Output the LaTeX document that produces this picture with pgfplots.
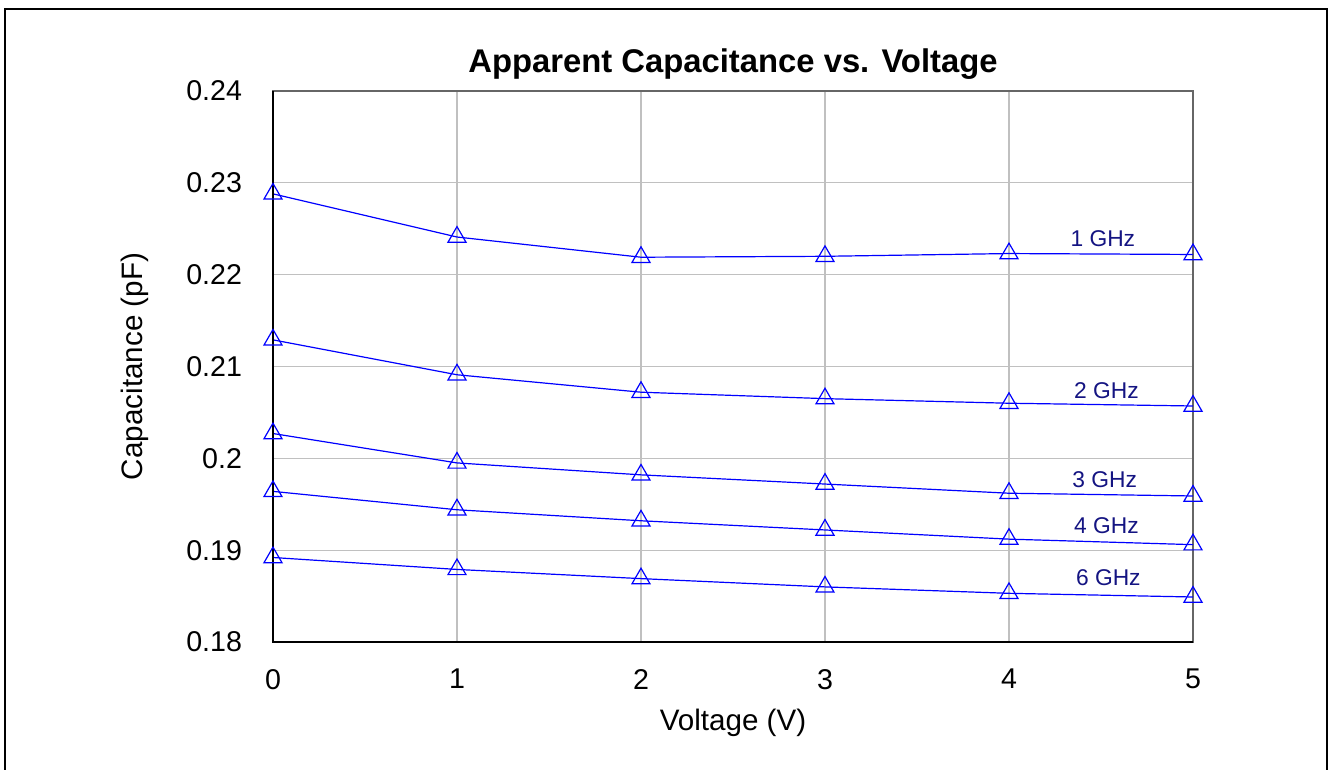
\documentclass[border=0pt]{standalone}
\usepackage{fontspec}
\setmainfont{Liberation Sans}
\usepackage{pgfplots}
\pgfplotsset{compat=1.18}
\definecolor{navylab}{RGB}{20,20,130}
\definecolor{gridgray}{RGB}{192,192,192}
\pgfplotsset{ser/.style={draw=blue, line width=0.6pt, mark=triangle, mark size=5.2pt, mark options={draw=blue, fill=none, solid, line width=0.6pt}}}
\begin{document}
\begin{tikzpicture}
\useasboundingbox (-136.5pt,-64pt) rectangle (528.5pt,321pt);
\fill[white] (-136.5pt,-64pt) rectangle (528.5pt,321pt);
\draw[black, line width=0.8pt] (-134pt,-80pt) -- (-134pt,316.5pt) -- (527pt,316.5pt) -- (527pt,-80pt);
\begin{axis}[
  at={(0,0)}, anchor=south west,
  scale only axis, width=460pt, height=275.5pt,
  xmin=0, xmax=5, ymin=0.18, ymax=0.24,
  xtick={0,1,2,3,4,5},
  ytick={0.18,0.19,0.2,0.21,0.22,0.23,0.24},
  /pgf/number format/assume math mode=true,
  yticklabel style={/pgf/number format/fixed, font=\fontsize{14.3}{17}\selectfont, xshift=-12pt},
  xticklabel style={font=\fontsize{14.3}{17}\selectfont, yshift=-10pt},
  major tick length=0pt,
  grid=major,
  major grid style={draw=gridgray, line width=0.6pt},
  axis line style={draw=black!60, line width=0.8pt},
  title={\textbf{Apparent Capacitance vs. Voltage}},
  title style={font=\fontsize{16.4}{19}\selectfont, yshift=-4pt},
  xlabel={Voltage (V)},
  ylabel={Capacitance (pF)},
  label style={font=\fontsize{14.8}{17}\selectfont},
  xlabel style={yshift=-3pt},
  ylabel style={yshift=12pt},
  clip=false,
]
\addplot[ser] coordinates {(0,0.2288) (1,0.2241) (2,0.2219) (3,0.2220) (4,0.2223) (5,0.2222)};
\addplot[ser] coordinates {(0,0.2129) (1,0.2091) (2,0.2072) (3,0.2065) (4,0.2060) (5,0.2057)};
\addplot[ser] coordinates {(0,0.2027) (1,0.1995) (2,0.1982) (3,0.1972) (4,0.1962) (5,0.1959)};
\addplot[ser] coordinates {(0,0.1964) (1,0.1944) (2,0.1932) (3,0.1922) (4,0.1912) (5,0.1906)};
\addplot[ser] coordinates {(0,0.1892) (1,0.1879) (2,0.1869) (3,0.1860) (4,0.1853) (5,0.1849)};
\draw[black, line width=0.9pt] (rel axis cs:0,1) -- (rel axis cs:0,0) -- (rel axis cs:1,0);
\begin{scope}[every node/.style={text=navylab, font=\fontsize{11.4}{13}\selectfont}]
\node at (axis cs:4.51,0.2239) {1 GHz};
\node at (axis cs:4.53,0.2074) {2 GHz};
\node at (axis cs:4.52,0.19764) {3 GHz};
\node at (axis cs:4.53,0.19263) {4 GHz};
\node at (axis cs:4.54,0.18704) {6 GHz};
\end{scope}
\end{axis}
\end{tikzpicture}
\end{document}
